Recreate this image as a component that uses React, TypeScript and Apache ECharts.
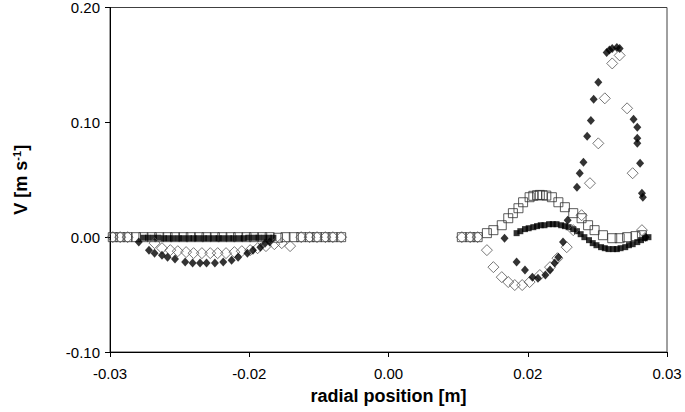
import React, { useEffect, useRef } from "react";
import * as echarts from "echarts";

// Radial profiles of the velocity component V [m/s] against radial position [m]
const filledDiamonds: [number, number][] = [
  [-0.0269, -0.0043], [-0.0258, -0.0113], [-0.0252, -0.0139], [-0.0244, -0.0157],
  [-0.0238, -0.0174], [-0.023, -0.0191], [-0.0219, -0.0217], [-0.0211, -0.0226],
  [-0.0203, -0.0226], [-0.0196, -0.0226], [-0.0187, -0.0226], [-0.0178, -0.0217],
  [-0.0169, -0.02], [-0.0162, -0.0174], [-0.0152, -0.0139], [-0.0146, -0.0113],
  [-0.0138, -0.0087], [-0.0133, -0.0052], [-0.0128, -0.0043],
  [0.0125, -0.0009], [0.0138, -0.0217], [0.0147, -0.0287], [0.0155, -0.0348],
  [0.0161, -0.0357], [0.0169, -0.033], [0.0174, -0.0287], [0.0179, -0.0226],
  [0.0183, -0.0174], [0.0188, -0.0043], [0.0193, 0.0148], [0.0203, 0.0435],
  [0.0206, 0.0557], [0.021, 0.0652], [0.0214, 0.0878], [0.0218, 0.1017],
  [0.0221, 0.12], [0.0226, 0.1348], [0.0235, 0.1609], [0.0238, 0.163],
  [0.0241, 0.1643], [0.0246, 0.1652], [0.0249, 0.1643], [0.0264, 0.1026],
  [0.0268, 0.0957], [0.0268, 0.0861], [0.0268, 0.0817], [0.0271, 0.0643],
  [0.0273, 0.0383], [0.0274, 0.0348], [0.0277, 0.0],
];

const openDiamonds: [number, number][] = [
  [-0.0297, 0.0], [-0.0289, 0.0], [-0.0281, 0.0],
  [-0.0252, -0.0052], [-0.0244, -0.0096], [-0.0235, -0.0113], [-0.0227, -0.0122],
  [-0.0218, -0.013], [-0.021, -0.0139], [-0.0201, -0.0139], [-0.0192, -0.0139],
  [-0.0184, -0.0139], [-0.0175, -0.0139], [-0.0166, -0.013], [-0.0158, -0.0122],
  [-0.0149, -0.0113], [-0.0141, -0.0096], [-0.0132, -0.0078], [-0.0123, -0.0061],
  [-0.0115, -0.0052], [-0.0106, -0.0078],
  [-0.0094, 0.0], [-0.0085, 0.0], [-0.0077, 0.0], [-0.0068, 0.0], [-0.006, 0.0], [-0.0051, 0.0],
  [0.0079, 0.0], [0.0088, 0.0], [0.0096, 0.0],
  [0.0106, -0.0113], [0.0113, -0.0261], [0.0122, -0.0348], [0.0129, -0.0391],
  [0.0136, -0.0417], [0.0144, -0.0417], [0.0152, -0.0391], [0.0163, -0.033],
  [0.0174, -0.0261], [0.0182, -0.0183], [0.0192, -0.0087], [0.0199, 0.0061],
  [0.0208, 0.0191], [0.0217, 0.047], [0.0226, 0.0817], [0.0233, 0.1209],
  [0.0241, 0.1513], [0.0249, 0.1583], [0.0257, 0.1122], [0.0263, 0.0557],
  [0.0273, 0.0061],
];

const filledSquares: [number, number][] = [
  [-0.0264, -0.0005], [-0.0259, -0.0005], [-0.0253, -0.0005], [-0.0248, -0.0005],
  [-0.0242, -0.0009], [-0.0237, -0.0009], [-0.0232, -0.0009], [-0.0226, -0.0009],
  [-0.0221, -0.0009], [-0.0215, -0.0009], [-0.021, -0.0009], [-0.0205, -0.0009],
  [-0.0199, -0.0009], [-0.0194, -0.0009], [-0.0188, -0.0009], [-0.0183, -0.0009],
  [-0.0178, -0.0009], [-0.0172, -0.0009], [-0.0167, -0.0009], [-0.0161, -0.0009],
  [-0.0156, -0.0009], [-0.0151, -0.0005], [-0.0145, -0.0005], [-0.014, -0.0005],
  [-0.0134, -0.0005], [-0.0129, -0.0005], [-0.0124, -0.0005],
  [0.0138, 0.0035], [0.0142, 0.0052], [0.0147, 0.007], [0.0151, 0.0078],
  [0.0156, 0.0087], [0.016, 0.0096], [0.0164, 0.0104], [0.0168, 0.0104],
  [0.0173, 0.0113], [0.0177, 0.0113], [0.0181, 0.0113], [0.0186, 0.0104],
  [0.019, 0.0096], [0.0194, 0.0087], [0.0199, 0.007], [0.0203, 0.0052],
  [0.0207, 0.0026], [0.0211, 0.0], [0.0216, -0.0026], [0.022, -0.0052],
  [0.0224, -0.007], [0.0229, -0.0087], [0.0233, -0.0096], [0.0237, -0.0104],
  [0.0242, -0.0104], [0.0246, -0.0104], [0.025, -0.0096], [0.0255, -0.0087],
  [0.0259, -0.007], [0.0263, -0.0061], [0.0268, -0.0043], [0.0272, -0.0026],
  [0.0276, -0.0009], [0.028, 0.0],
];

const openSquares: [number, number][] = [
  [-0.0297, 0.0], [-0.0289, 0.0], [-0.0281, 0.0], [-0.0272, 0.0], [-0.0264, 0.0],
  [-0.0255, 0.0], [-0.0247, 0.0], [-0.0238, 0.0], [-0.023, 0.0], [-0.0221, 0.0],
  [-0.0213, 0.0], [-0.0204, 0.0], [-0.0196, 0.0], [-0.0187, 0.0], [-0.0179, 0.0],
  [-0.017, 0.0], [-0.0162, 0.0], [-0.0153, 0.0], [-0.0145, 0.0], [-0.0136, 0.0],
  [-0.0128, 0.0], [-0.0119, -0.0005], [-0.0111, 0.0], [-0.0102, 0.0], [-0.0094, 0.0],
  [-0.0085, 0.0], [-0.0077, 0.0], [-0.0068, 0.0], [-0.006, 0.0], [-0.0051, 0.0],
  [0.0079, 0.0], [0.0088, 0.0], [0.0096, 0.0], [0.0106, 0.0035], [0.0113, 0.0061],
  [0.0122, 0.0104], [0.0129, 0.0165], [0.0134, 0.0209], [0.014, 0.0252],
  [0.0145, 0.0304], [0.0152, 0.0348], [0.0156, 0.036], [0.016, 0.0365],
  [0.0163, 0.0368], [0.0166, 0.0365], [0.017, 0.0362], [0.0176, 0.0348],
  [0.0183, 0.0304], [0.019, 0.0261], [0.0199, 0.0209], [0.0208, 0.0165],
  [0.0215, 0.0104], [0.0222, 0.0061], [0.0231, 0.0017], [0.0241, -0.0009],
  [0.0249, -0.0009], [0.0257, 0.0], [0.0266, 0.0009], [0.0273, 0.0017],
];

const xTickLabels = ["-0.03", "-0.02", "0.00", "0.02", "0.03"];
const yTickLabels = ["-0.10", "0.00", "0.10", "0.20"];

const FONT = "Liberation Sans, Arial, sans-serif";

export default function App() {
  const ref = useRef<HTMLDivElement>(null);

  useEffect(() => {
    if (!ref.current) return;
    const chart = echarts.init(ref.current, null, { renderer: "svg" });
    const hollow = "rgba(0,0,0,0)";
    chart.setOption({
      animation: false,
      backgroundColor: "#fff",
      textStyle: { fontFamily: FONT },
      grid: {
        left: 110,
        right: 18,
        top: 7,
        bottom: 60,
        show: true,
        borderColor: "#404040",
        borderWidth: 1,
      },
      xAxis: {
        type: "value",
        min: -0.03,
        max: 0.03,
        interval: 0.015,
        axisLine: { show: true, onZero: false, lineStyle: { color: "#000", width: 1 } },
        axisTick: { show: true, inside: false, length: 5, lineStyle: { color: "#000" } },
        splitLine: { show: false },
        axisLabel: {
          color: "#000",
          fontSize: 15,
          fontFamily: FONT,
          margin: 14,
          formatter: (v: number) => xTickLabels[Math.round((v + 0.03) / 0.015)],
        },
        name: "radial position [m]",
        nameLocation: "middle",
        nameGap: 35,
        nameTextStyle: { color: "#000", fontSize: 18, fontWeight: "bold", fontFamily: FONT },
      },
      yAxis: {
        type: "value",
        min: -0.1,
        max: 0.2,
        interval: 0.1,
        axisLine: { show: true, onZero: false, lineStyle: { color: "#000", width: 1 } },
        axisTick: { show: true, inside: false, length: 5, lineStyle: { color: "#000" } },
        splitLine: { show: false },
        axisLabel: {
          color: "#000",
          fontSize: 15,
          fontFamily: FONT,
          margin: 10,
          formatter: (v: number) => yTickLabels[Math.round((v + 0.1) / 0.1)],
        },
        name: "V [m s{sup|-1}]",
        nameLocation: "middle",
        nameRotate: 90,
        nameGap: 79,
        nameTextStyle: {
          color: "#000",
          fontSize: 18,
          fontWeight: "bold",
          fontFamily: FONT,
          lineHeight: 20,
          rich: {
            sup: {
              fontSize: 11,
              fontWeight: "bold",
              fontFamily: FONT,
              color: "#000",
              verticalAlign: "top",
              lineHeight: 20,
            },
          },
        },
      },
      series: [
        {
          type: "scatter",
          name: "open squares",
          symbol: "rect",
          symbolSize: 9,
          data: openSquares,
          itemStyle: { color: hollow, borderColor: "#333", borderWidth: 1 },
          z: 1,
        },
        {
          type: "scatter",
          name: "filled squares",
          symbol: "rect",
          symbolSize: 6,
          data: filledSquares,
          itemStyle: { color: "#000" },
          z: 2,
        },
        {
          type: "scatter",
          name: "open diamonds",
          symbol: "diamond",
          symbolSize: [11, 11],
          data: openDiamonds,
          itemStyle: { color: hollow, borderColor: "#555", borderWidth: 1 },
          z: 3,
        },
        {
          type: "scatter",
          name: "filled diamonds",
          symbol: "diamond",
          symbolSize: [8, 9],
          data: filledDiamonds,
          itemStyle: { color: "#000" },
          z: 4,
        },
      ],
    });
    return () => chart.dispose();
  }, []);

  return (
    <div
      ref={ref}
      style={{ position: "fixed", left: 0, top: 0, width: 685, height: 412 }}
    />
  );
}
